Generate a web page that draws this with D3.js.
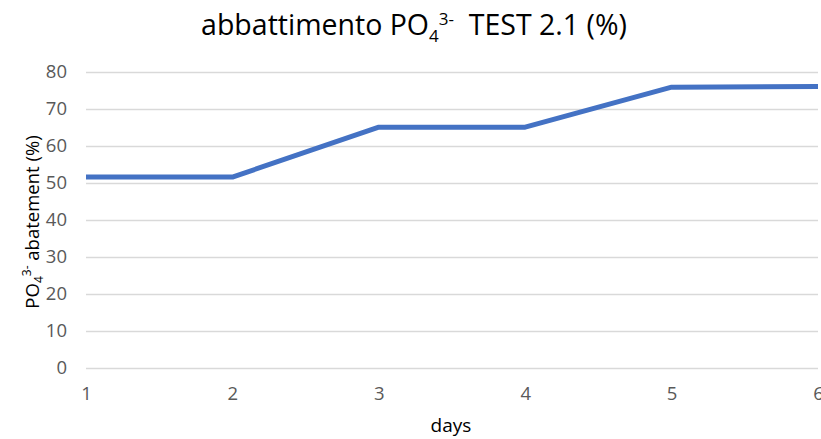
<!DOCTYPE html>
<html>
<head>
<meta charset="utf-8">
<script src="https://d3js.org/d3.v7.min.js"></script>
<style>
  body { margin: 0; background: #fff; }
  text { font-family: "Open Sans", "Liberation Sans", sans-serif; }
</style>
</head>
<body>
<svg id="chart" width="821" height="439"></svg>
<script>
// data
const days = [1, 2, 3, 4, 5, 6];
const abatement = [51.6, 51.6, 65.1, 65.1, 75.9, 76.1];
const yTicks = [0, 10, 20, 30, 40, 50, 60, 70, 80];

const svg = d3.select('#chart');
const margin = { top: 72, right: 3, bottom: 71, left: 86 };
const width = 821, height = 439;
const innerW = width - margin.left - margin.right;
const innerH = height - margin.top - margin.bottom;

const g = svg.append('g').attr('transform', `translate(${margin.left},${margin.top})`);

const x = d3.scaleLinear().domain([1, 6]).range([0, innerW]);
const y = d3.scaleLinear().domain([0, 80]).range([innerH, 0]);

// gridlines + y labels
const yAxis = d3.axisLeft(y).tickValues(yTicks).tickSize(-innerW).tickPadding(19);
const yG = g.append('g').call(yAxis);
yG.select('.domain').remove();
yG.selectAll('.tick line').attr('stroke', '#d9d9d9').attr('stroke-width', 1.3);
yG.selectAll('.tick text').attr('fill', '#595959').style('font-size', '18.5px');

// x labels
const xAxis = d3.axisBottom(x).tickValues(days).tickFormat(d3.format('d')).tickSize(0).tickPadding(19);
const xG = g.append('g').attr('transform', `translate(0,${innerH})`).call(xAxis);
xG.select('.domain').remove();
xG.selectAll('.tick text').attr('fill', '#595959').style('font-size', '18.5px');

// line
const line = d3.line().x((d, i) => x(days[i])).y(d => y(d));
g.append('path')
  .datum(abatement)
  .attr('fill', 'none')
  .attr('stroke', '#4472C4')
  .attr('stroke-width', 5)
  .attr('stroke-linejoin', 'round')
  .attr('d', line);

// title
const title = svg.append('text')
  .attr('x', 414).attr('y', 35)
  .attr('text-anchor', 'middle')
  .attr('fill', '#000')
  .style('font-size', '28.5px');
title.append('tspan').text('abbattimento PO');
title.append('tspan').attr('dy', 7).style('font-size', '17px').text('4');
title.append('tspan').attr('dy', -17).style('font-size', '17px').text('3-');
title.append('tspan').attr('dy', 10).text('\u00a0\u00a0TEST 2.1 (%)');

// x axis title
svg.append('text')
  .attr('x', 451).attr('y', 432)
  .attr('text-anchor', 'middle')
  .attr('fill', '#000')
  .style('font-size', '19px')
  .text('days');

// y axis title
const yt = svg.append('text')
  .attr('transform', 'translate(39,222) rotate(-90)')
  .attr('text-anchor', 'middle')
  .attr('fill', '#000')
  .style('font-size', '18.5px');
yt.append('tspan').text('PO');
yt.append('tspan').attr('dy', 4).style('font-size', '12px').text('4');
yt.append('tspan').attr('dy', -12).style('font-size', '12px').text('3-');
yt.append('tspan').attr('dy', 8).text(' abatement (%)');
</script>
</body>
</html>
